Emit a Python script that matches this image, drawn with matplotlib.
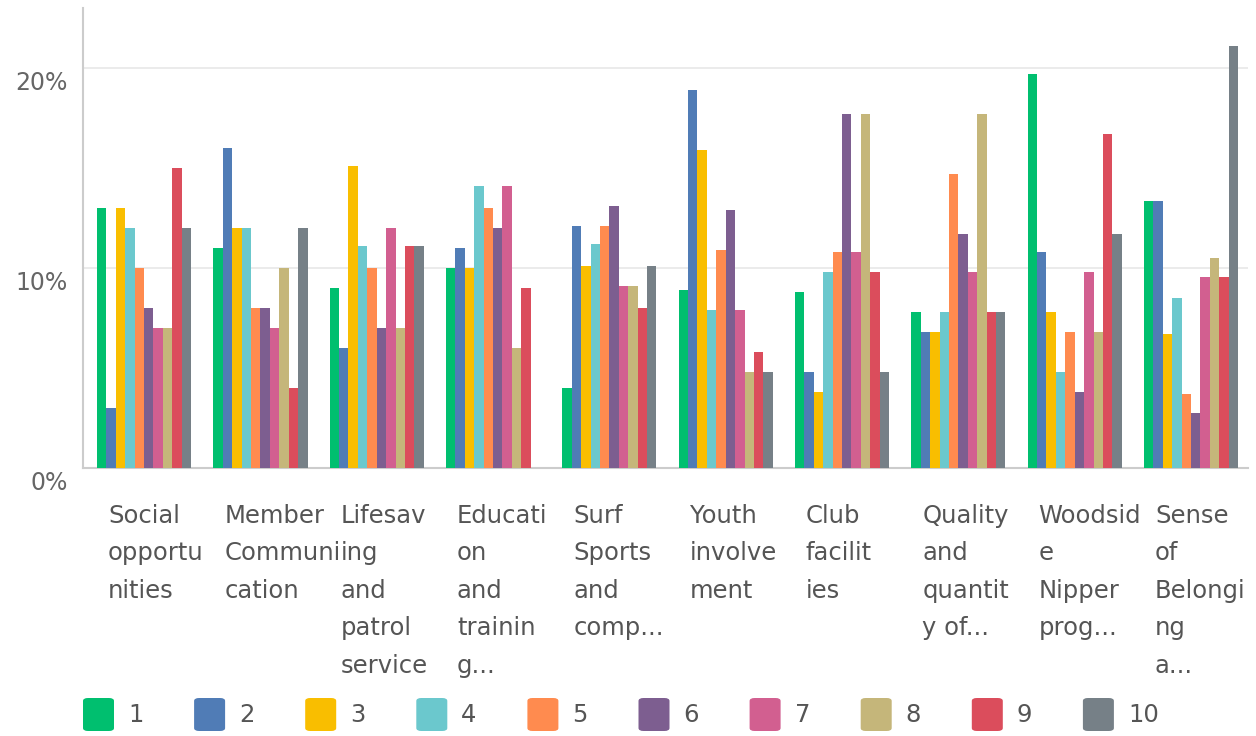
import matplotlib
matplotlib.use("Agg")
import matplotlib.pyplot as plt
import matplotlib.transforms as mtransforms
from matplotlib.patches import FancyBboxPatch
import numpy as np

categories = [
    "Social\nopportu\nnities",
    "Member\nCommuni\ncation",
    "Lifesav\ning\nand\npatrol\nservice",
    "Educati\non\nand\ntrainin\ng...",
    "Surf\nSports\nand\ncomp...",
    "Youth\ninvolve\nment",
    "Club\nfacilit\nies",
    "Quality\nand\nquantit\ny of...",
    "Woodsid\ne\nNipper\nprog...",
    "Sense\nof\nBelongi\nng\na...",
]
series_labels = ["1", "2", "3", "4", "5", "6", "7", "8", "9", "10"]
colors = ["#00BF6F", "#507CB6", "#F9BE00", "#6BC8CD", "#FF8B4F",
          "#7D5E90", "#D25F90", "#C5B67A", "#DB4D5C", "#768087"]

# values[s][c] : percentage of series s for category c
values = [
    [13.0, 11.0, 9.0, 10.0, 4.0, 8.9, 8.8, 7.8, 19.7, 13.35],    # 1
    [3.0, 16.0, 6.0, 11.0, 12.1, 18.9, 4.8, 6.8, 10.8, 13.35],   # 2
    [13.0, 12.0, 15.1, 10.0, 10.1, 15.9, 3.8, 6.8, 7.8, 6.7],    # 3
    [12.0, 12.0, 11.1, 14.1, 11.2, 7.9, 9.8, 7.8, 4.8, 8.5],     # 4
    [10.0, 8.0, 10.0, 13.0, 12.1, 10.9, 10.8, 14.7, 6.8, 3.7],   # 5
    [8.0, 8.0, 7.0, 12.0, 13.1, 12.9, 17.7, 11.7, 3.8, 2.75],    # 6
    [7.0, 7.0, 12.0, 14.1, 9.1, 7.9, 10.8, 9.8, 9.8, 9.55],      # 7
    [7.0, 10.0, 7.0, 6.0, 9.1, 4.8, 17.7, 17.7, 6.8, 10.5],      # 8
    [15.0, 4.0, 11.1, 9.0, 8.0, 5.8, 9.8, 7.8, 16.7, 9.55],      # 9
    [12.0, 12.0, 11.1, 0.0, 10.1, 4.8, 4.8, 7.8, 11.7, 21.1],    # 10
]
yticks = [0, 10, 20]
ytick_labels = ["0%", "10%", "20%"]

W, H = 1256, 736
fig = plt.figure(figsize=(W / 100, H / 100), dpi=100)
ax = fig.add_axes([83 / W, 1 - 468 / H, (1248 - 83) / W, (468 - 8) / H])

n_series = len(values)
bw = 0.081
x = np.arange(len(categories))
for s in range(n_series):
    offs = (s - (n_series - 1) / 2) * bw
    ax.bar(x + offs, values[s], width=bw, color=colors[s], linewidth=0, zorder=3)

ax.set_xlim(-0.525, 9.49)
ax.set_ylim(0, 23)
ax.set_yticks(yticks)
ax.set_yticklabels(ytick_labels)
ax.tick_params(axis="y", length=0, pad=11, labelsize=17, labelcolor="#666666")
offset = mtransforms.ScaledTranslation(0, -12 / 100, fig.dpi_scale_trans)
for lab in ax.get_yticklabels():
    lab.set_transform(lab.get_transform() + offset)
    lab.set_fontfamily("DejaVu Sans")
ax.set_xticks([])
ax.grid(axis="y", color="#E8E8E8", linewidth=1.2, zorder=0)
for side in ["top", "right"]:
    ax.spines[side].set_visible(False)
ax.spines["left"].set_color("#CCCCCC")
ax.spines["bottom"].set_color("#CCCCCC")
ax.spines["left"].set_linewidth(1.5)
ax.spines["bottom"].set_linewidth(1.5)

# category labels
trans = mtransforms.blended_transform_factory(ax.transData, fig.transFigure)
for i, cat in enumerate(categories):
    ax.text(i - 0.31, 1 - 504 / H, cat, transform=trans, ha="left", va="top",
            fontsize=17.5, color="#555555", family="DejaVu Sans",
            linespacing=1.71, clip_on=False)

# legend
for s, lab in enumerate(series_labels):
    x0 = 83 + s * 111.1
    fig.patches.append(FancyBboxPatch((x0 / W, 1 - 731 / H), 31 / W, 33 / H,
                                      boxstyle="round,pad=0,rounding_size=0.004",
                                      transform=fig.transFigure,
                                      facecolor=colors[s], edgecolor="none"))
    fig.text((x0 + 45) / W, 1 - 715 / H, lab, ha="left", va="center",
             fontsize=17.5, color="#555555", family="DejaVu Sans")

fig.savefig("out.png", dpi=100)
